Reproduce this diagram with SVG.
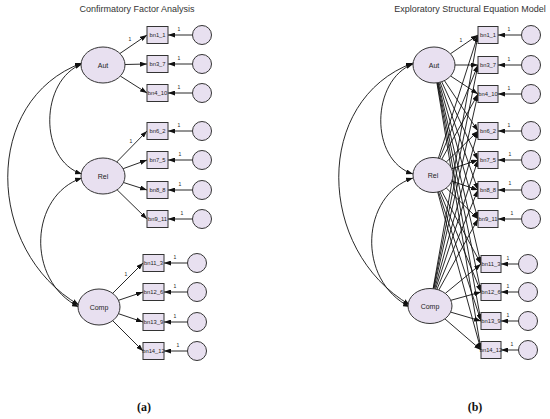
<svg xmlns="http://www.w3.org/2000/svg" width="550" height="419" viewBox="0 0 550 419">
<style>
  .lat{fill:#e8e0f0;stroke:#333;stroke-width:1}
  .obs{fill:#e8e0f0;stroke:#333;stroke-width:1}
  .err{fill:#e8e0f0;stroke:#333;stroke-width:1}
  .ln{fill:none;stroke:#111;stroke-width:0.9;marker-end:url(#arr)}
  .cov{fill:none;stroke:#111;stroke-width:0.9;marker-end:url(#arr);marker-start:url(#arr)}
  text{font-family:"Liberation Sans",Arial,sans-serif;fill:#222}
  .t-lat{font-size:7px;text-anchor:middle}
  .t-obs{font-size:5.8px;text-anchor:middle}
  .t-one{font-size:5px;text-anchor:middle}
  .t-title{font-size:9px;text-anchor:middle;fill:#333}
  .t-cap{font-family:"Liberation Serif","Times New Roman",serif;font-size:12px;font-weight:bold;text-anchor:middle;fill:#111}
</style>
<defs>
  <marker id="arr" markerUnits="userSpaceOnUse" markerWidth="7" markerHeight="5" viewBox="0 0 7 5" refX="7" refY="2.5" orient="auto-start-reverse">
    <path d="M0,0 L7,2.5 L0,5 z" fill="#111"/>
  </marker>
</defs>
<rect width="550" height="419" fill="#fff"/>

<text class="t-title" x="137" y="12">Confirmatory Factor Analysis</text>
<text class="t-title" x="470" y="12">Exploratory Structural Equation Model</text>
<text class="t-cap" x="144" y="411">(a)</text>
<text class="t-cap" x="475" y="411">(b)</text>

<g id="connectors">
  <!-- CFA covariances -->
  <path class="cov" d="M82,64 C40,80 38,160 82,174"/>
  <path class="cov" d="M82,63 C-18,100 -15,250 79,305"/>
  <path class="cov" d="M82,178 C30,195 25,280 79,307"/>
  <!-- CFA loadings -->
  <line class="ln" x1="119.9" y1="53.5" x2="147" y2="35"/>
  <line class="ln" x1="125" y1="64.5" x2="147" y2="64"/>
  <line class="ln" x1="120.4" y1="76.1" x2="147" y2="93"/>
  <line class="ln" x1="116.7" y1="162" x2="147" y2="131"/>
  <line class="ln" x1="123.1" y1="168.7" x2="147" y2="160"/>
  <line class="ln" x1="123.5" y1="182.5" x2="147" y2="190"/>
  <line class="ln" x1="117.1" y1="189.8" x2="147" y2="219"/>
  <line class="ln" x1="112.7" y1="293.3" x2="143" y2="263"/>
  <line class="ln" x1="118.5" y1="300.3" x2="143" y2="292"/>
  <line class="ln" x1="118.5" y1="313.7" x2="143" y2="322"/>
  <line class="ln" x1="112.7" y1="320.7" x2="143" y2="351"/>
  <!-- CFA errors -->
  <line class="ln" x1="192.5" y1="35" x2="168" y2="35"/>
  <line class="ln" x1="192.5" y1="64" x2="168" y2="64"/>
  <line class="ln" x1="192.5" y1="93" x2="168" y2="93"/>
  <line class="ln" x1="192.5" y1="131" x2="168" y2="131"/>
  <line class="ln" x1="192.5" y1="160" x2="168" y2="160"/>
  <line class="ln" x1="192.5" y1="190" x2="168" y2="190"/>
  <line class="ln" x1="192.5" y1="219" x2="168" y2="219"/>
  <line class="ln" x1="187.5" y1="263" x2="164" y2="263"/>
  <line class="ln" x1="187.5" y1="292" x2="164" y2="292"/>
  <line class="ln" x1="187.5" y1="322" x2="164" y2="322"/>
  <line class="ln" x1="187.5" y1="351" x2="164" y2="351"/>

  <!-- ESEM covariances -->
  <path class="cov" d="M413,64 C371,80 369,160 413,174"/>
  <path class="cov" d="M413,63 C313,100 316,250 410,305"/>
  <path class="cov" d="M413,178 C361,195 356,280 410,307"/>
  <!-- ESEM loadings: Aut -->
  <line class="ln" x1="450.4" y1="53.8" x2="478" y2="35"/>
  <line class="ln" x1="455" y1="65" x2="478" y2="65"/>
  <line class="ln" x1="450.6" y1="76" x2="478" y2="94"/>
  <line class="ln" x1="444.4" y1="80.6" x2="478" y2="131"/>
  <line class="ln" x1="441.7" y1="81.7" x2="478" y2="160"/>
  <line class="ln" x1="440.1" y1="82.2" x2="478" y2="190"/>
  <line class="ln" x1="439" y1="82.5" x2="478" y2="219"/>
  <line class="ln" x1="438.2" y1="82.6" x2="481" y2="264"/>
  <line class="ln" x1="437.7" y1="82.7" x2="481" y2="292"/>
  <line class="ln" x1="437.3" y1="82.8" x2="481" y2="321"/>
  <line class="ln" x1="436.9" y1="82.8" x2="481" y2="350"/>
  <!-- ESEM loadings: Rel -->
  <line class="ln" x1="438.4" y1="158.2" x2="478" y2="35"/>
  <line class="ln" x1="439.7" y1="158.5" x2="478" y2="65"/>
  <line class="ln" x1="441.7" y1="159.3" x2="478" y2="94"/>
  <line class="ln" x1="446.3" y1="162" x2="478" y2="131"/>
  <line class="ln" x1="451.7" y1="168.8" x2="478" y2="160"/>
  <line class="ln" x1="451.7" y1="181.2" x2="478" y2="190"/>
  <line class="ln" x1="446.3" y1="188" x2="478" y2="219"/>
  <line class="ln" x1="441.5" y1="190.8" x2="481" y2="264"/>
  <line class="ln" x1="439.8" y1="191.5" x2="481" y2="292"/>
  <line class="ln" x1="438.5" y1="191.8" x2="481" y2="321"/>
  <line class="ln" x1="437.7" y1="192" x2="481" y2="350"/>
  <!-- ESEM loadings: Comp -->
  <line class="ln" x1="433.1" y1="288.7" x2="478" y2="35"/>
  <line class="ln" x1="433.4" y1="288.7" x2="478" y2="65"/>
  <line class="ln" x1="433.9" y1="288.8" x2="478" y2="94"/>
  <line class="ln" x1="434.7" y1="288.9" x2="478" y2="131"/>
  <line class="ln" x1="435.6" y1="289.1" x2="478" y2="160"/>
  <line class="ln" x1="436.9" y1="289.4" x2="478" y2="190"/>
  <line class="ln" x1="438.8" y1="290" x2="478" y2="219"/>
  <line class="ln" x1="445.3" y1="293.4" x2="481" y2="264"/>
  <line class="ln" x1="450.8" y1="300.3" x2="481" y2="292"/>
  <line class="ln" x1="450.6" y1="312.1" x2="481" y2="321"/>
  <line class="ln" x1="444.9" y1="318.9" x2="481" y2="350"/>
  <!-- ESEM errors -->
  <line class="ln" x1="521.5" y1="35" x2="498" y2="35"/>
  <line class="ln" x1="521.5" y1="65" x2="498" y2="65"/>
  <line class="ln" x1="521.5" y1="94" x2="498" y2="94"/>
  <line class="ln" x1="521.5" y1="131" x2="498" y2="131"/>
  <line class="ln" x1="521.5" y1="160" x2="498" y2="160"/>
  <line class="ln" x1="521.5" y1="190" x2="498" y2="190"/>
  <line class="ln" x1="521.5" y1="219" x2="498" y2="219"/>
  <line class="ln" x1="518.5" y1="264" x2="501" y2="264"/>
  <line class="ln" x1="518.5" y1="292" x2="501" y2="292"/>
  <line class="ln" x1="518.5" y1="321" x2="501" y2="321"/>
  <line class="ln" x1="518.5" y1="350" x2="501" y2="350"/>

  <!-- path coefficient labels -->
  <text class="t-one" x="130" y="41">1</text>
  <text class="t-one" x="131" y="143">1</text>
  <text class="t-one" x="126" y="276">1</text>
  <text class="t-one" x="461" y="42">1</text>
  <text class="t-one" x="179" y="31">1</text>
  <text class="t-one" x="179" y="60">1</text>
  <text class="t-one" x="179" y="89">1</text>
  <text class="t-one" x="179" y="127">1</text>
  <text class="t-one" x="180" y="156">1</text>
  <text class="t-one" x="180" y="186">1</text>
  <text class="t-one" x="182" y="215">1</text>
  <text class="t-one" x="175" y="259">1</text>
  <text class="t-one" x="175" y="288">1</text>
  <text class="t-one" x="175" y="318">1</text>
  <text class="t-one" x="178" y="347">1</text>
  <text class="t-one" x="509" y="31">1</text>
  <text class="t-one" x="509" y="61">1</text>
  <text class="t-one" x="509" y="90">1</text>
  <text class="t-one" x="509" y="127">1</text>
  <text class="t-one" x="510" y="156">1</text>
  <text class="t-one" x="510" y="185">1</text>
  <text class="t-one" x="512" y="215">1</text>
  <text class="t-one" x="508" y="260">1</text>
  <text class="t-one" x="508" y="288">1</text>
  <text class="t-one" x="508" y="317">1</text>
  <text class="t-one" x="512" y="346">1</text>
</g>

<!-- CFA nodes -->
<g id="cfa-Aut"><ellipse class="lat" cx="103" cy="65" rx="22" ry="18"/><text class="t-lat" x="103" y="67.5">Aut</text></g>
<g id="cfa-Rel"><ellipse class="lat" cx="103" cy="176" rx="22" ry="18"/><text class="t-lat" x="103" y="178.5">Rel</text></g>
<g id="cfa-Comp"><ellipse class="lat" cx="99" cy="307" rx="21" ry="18"/><text class="t-lat" x="99" y="309.5">Comp</text></g>

<g id="cfa-bn1_1"><rect class="obs" x="147" y="26.5" width="21" height="17"/><text class="t-obs" x="157.5" y="37">bn1_1</text></g>
<g id="cfa-bn3_7"><rect class="obs" x="147" y="55.5" width="21" height="17"/><text class="t-obs" x="157.5" y="66">bn3_7</text></g>
<g id="cfa-bn4_10"><rect class="obs" x="147" y="84.5" width="21" height="17"/><text class="t-obs" x="157.5" y="95">bn4_10</text></g>
<g id="cfa-bn6_2"><rect class="obs" x="147" y="122.5" width="21" height="17"/><text class="t-obs" x="157.5" y="133">bn6_2</text></g>
<g id="cfa-bn7_5"><rect class="obs" x="147" y="151.5" width="21" height="17"/><text class="t-obs" x="157.5" y="162">bn7_5</text></g>
<g id="cfa-bn8_8"><rect class="obs" x="147" y="181.5" width="21" height="17"/><text class="t-obs" x="157.5" y="192">bn8_8</text></g>
<g id="cfa-bn9_11"><rect class="obs" x="147" y="210.5" width="21" height="17"/><text class="t-obs" x="157.5" y="221">bn9_11</text></g>
<g id="cfa-bn11_3"><rect class="obs" x="143" y="254.5" width="21" height="17"/><text class="t-obs" x="153.5" y="265">bn11_3</text></g>
<g id="cfa-bn12_6"><rect class="obs" x="143" y="283.5" width="21" height="17"/><text class="t-obs" x="153.5" y="294">bn12_6</text></g>
<g id="cfa-bn13_9"><rect class="obs" x="143" y="313.5" width="21" height="17"/><text class="t-obs" x="153.5" y="324">bn13_9</text></g>
<g id="cfa-bn14_12"><rect class="obs" x="143" y="342.5" width="21" height="17"/><text class="t-obs" x="153.5" y="353">bn14_12</text></g>

<g id="cfa-e1"><circle class="err" cx="202" cy="35" r="9.5"/></g>
<g id="cfa-e2"><circle class="err" cx="202" cy="64" r="9.5"/></g>
<g id="cfa-e3"><circle class="err" cx="202" cy="93" r="9.5"/></g>
<g id="cfa-e4"><circle class="err" cx="202" cy="131" r="9.5"/></g>
<g id="cfa-e5"><circle class="err" cx="202" cy="160" r="9.5"/></g>
<g id="cfa-e6"><circle class="err" cx="202" cy="190" r="9.5"/></g>
<g id="cfa-e7"><circle class="err" cx="202" cy="219" r="9.5"/></g>
<g id="cfa-e8"><circle class="err" cx="197" cy="263" r="9.5"/></g>
<g id="cfa-e9"><circle class="err" cx="197" cy="292" r="9.5"/></g>
<g id="cfa-e10"><circle class="err" cx="197" cy="322" r="9.5"/></g>
<g id="cfa-e11"><circle class="err" cx="197" cy="351" r="9.5"/></g>

<!-- ESEM nodes -->
<g id="esem-Aut"><ellipse class="lat" cx="434" cy="65" rx="21" ry="18"/><text class="t-lat" x="434" y="67.5">Aut</text></g>
<g id="esem-Rel"><ellipse class="lat" cx="433" cy="175" rx="20" ry="17.5"/><text class="t-lat" x="433" y="177.5">Rel</text></g>
<g id="esem-Comp"><ellipse class="lat" cx="430" cy="306" rx="22" ry="17.5"/><text class="t-lat" x="430" y="308.5">Comp</text></g>

<g id="esem-bn1_1"><rect class="obs" x="478" y="26.5" width="20" height="17"/><text class="t-obs" x="488" y="37">bn1_1</text></g>
<g id="esem-bn3_7"><rect class="obs" x="478" y="56.5" width="20" height="17"/><text class="t-obs" x="488" y="67">bn3_7</text></g>
<g id="esem-bn4_10"><rect class="obs" x="478" y="85.5" width="20" height="17"/><text class="t-obs" x="488" y="96">bn4_10</text></g>
<g id="esem-bn6_2"><rect class="obs" x="478" y="122.5" width="20" height="17"/><text class="t-obs" x="488" y="133">bn6_2</text></g>
<g id="esem-bn7_5"><rect class="obs" x="478" y="151.5" width="20" height="17"/><text class="t-obs" x="488" y="162">bn7_5</text></g>
<g id="esem-bn8_8"><rect class="obs" x="478" y="181.5" width="20" height="17"/><text class="t-obs" x="488" y="192">bn8_8</text></g>
<g id="esem-bn9_11"><rect class="obs" x="478" y="210.5" width="20" height="17"/><text class="t-obs" x="488" y="221">bn9_11</text></g>
<g id="esem-bn11_3"><rect class="obs" x="481" y="255.5" width="20" height="17"/><text class="t-obs" x="491" y="266">bn11_3</text></g>
<g id="esem-bn12_6"><rect class="obs" x="481" y="283.5" width="20" height="17"/><text class="t-obs" x="491" y="294">bn12_6</text></g>
<g id="esem-bn13_9"><rect class="obs" x="481" y="312.5" width="20" height="17"/><text class="t-obs" x="491" y="323">bn13_9</text></g>
<g id="esem-bn14_12"><rect class="obs" x="481" y="341.5" width="20" height="17"/><text class="t-obs" x="491" y="352">bn14_12</text></g>

<g id="esem-e1"><circle class="err" cx="531" cy="35" r="9.5"/></g>
<g id="esem-e2"><circle class="err" cx="531" cy="65" r="9.5"/></g>
<g id="esem-e3"><circle class="err" cx="531" cy="94" r="9.5"/></g>
<g id="esem-e4"><circle class="err" cx="531" cy="131" r="9.5"/></g>
<g id="esem-e5"><circle class="err" cx="531" cy="160" r="9.5"/></g>
<g id="esem-e6"><circle class="err" cx="531" cy="190" r="9.5"/></g>
<g id="esem-e7"><circle class="err" cx="531" cy="219" r="9.5"/></g>
<g id="esem-e8"><circle class="err" cx="528" cy="264" r="9.5"/></g>
<g id="esem-e9"><circle class="err" cx="528" cy="292" r="9.5"/></g>
<g id="esem-e10"><circle class="err" cx="528" cy="321" r="9.5"/></g>
<g id="esem-e11"><circle class="err" cx="528" cy="350" r="9.5"/></g>
</svg>
